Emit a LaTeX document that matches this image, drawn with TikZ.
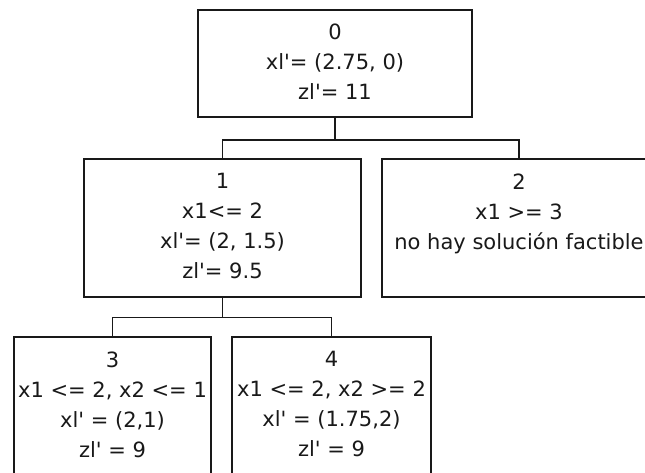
\documentclass[tikz,border=0pt]{standalone}
\usepackage{fontspec}
\newfontfamily\dv{DejaVu Sans}
\tikzset{
  box/.style={draw=black!90, line width=1.4pt, rectangle, inner sep=0pt},
  rootbox/.style={box, line width=1.8pt},
  txt/.style={align=center, inner sep=0pt, anchor=north, text=black!90,
              font={\dv\fontsize{21}{30}\selectfont}},
  link/.style={draw=black!90, line width=1.4pt}
}
\begin{document}
\begin{tikzpicture}[x=1pt,y=-1pt]
\useasboundingbox (0,0) rectangle (645,473);
\fill[white] (0,0) rectangle (645,473);
% boxes
\node[rootbox, minimum width=274pt, minimum height=107pt] (n0) at (335,63.5) {};
\node[box, minimum width=277pt, minimum height=138pt] (n1) at (222.5,228) {};
\node[box, minimum width=274pt, minimum height=138pt] (n2) at (519,228) {};
\node[box, minimum width=197pt, minimum height=138pt] (n3) at (112.5,406) {};
\node[box, minimum width=199pt, minimum height=138pt] (n4) at (331.5,406) {};
% texts
\node[txt] (t0) at ([yshift=-15pt]n0.north) {0\\xl'= (2.75, 0)\\zl'= 11};
\node[txt] (t1) at ([yshift=-15pt]n1.north) {1\\x1<= 2\\xl'= (2, 1.5)\\zl'= 9.5};
\node[txt] (t2) at ([yshift=-15pt]n2.north) {2\\x1 >= 3\\no hay solución factible};
\node[txt] (t3) at ([yshift=-15pt]n3.north) {3\\x1 <= 2, x2 <= 1\\xl' = (2,1)\\zl' = 9};
\node[txt] (t4) at ([yshift=-15pt]n4.north) {4\\x1 <= 2, x2 >= 2\\xl' = (1.75,2)\\zl' = 9};
% connectors
\path (n0.south) ++(0,22) coordinate (j0);
\path (n1.south) ++(0,20) coordinate (j1);
\draw[link] (n0.south) -- (j0);
\draw[link] (n1.north) |- (j0) -| (n2.north);
\draw[link] (n1.south) -- (j1);
\draw[link] (n3.north) |- (j1) -| (n4.north);
\end{tikzpicture}
\end{document}
